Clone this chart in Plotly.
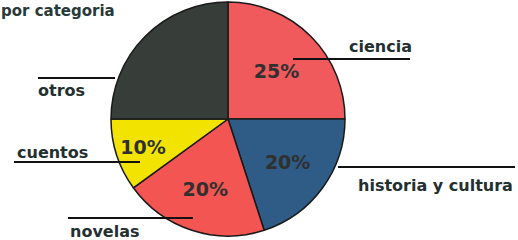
import plotly.graph_objects as go

categories = ["ciencia", "historia y cultura", "novelas", "cuentos", "otros"]
values = [25, 20, 20, 10, 25]
inside_labels = ["25%", "20%", "20%", "10%", ""]
colors = ["#F05A5C", "#2E5C86", "#F25552", "#F2E400", "#373D39"]

W, H = 518, 240
FONT = "DejaVu Sans, Liberation Sans, Arial"

def px(x):
    return x / W

def py(y):
    return 1 - y / H

fig = go.Figure(go.Pie(
    labels=categories,
    values=values,
    text=inside_labels,
    texttemplate="<b>%{text}</b>",
    textposition="inside",
    insidetextorientation="horizontal",
    textfont=dict(family=FONT, size=19, color="#303030"),
    marker=dict(colors=colors, line=dict(color="#1a1a1a", width=1.5)),
    sort=False,
    direction="clockwise",
    rotation=0,
    showlegend=False,
    hoverinfo="label+percent",
    domain=dict(x=[px(111), px(345)], y=[py(236), py(2)]),
))

# external labels with leader lines: (text, text_x, text_y, line_x0, line_x1, line_y)
ext = [
    ("ciencia", 380, 46, 293, 410, 59),
    ("historia y cultura", 435, 185, 338, 515, 167),
    ("otros", 61, 90, 38, 115, 78),
    ("cuentos", 52, 152, 14, 140, 162),
    ("novelas", 104, 231, 68, 193, 218),
]
shapes = []
annotations = []
for t, tx, ty, x0, x1, ly in ext:
    annotations.append(dict(text="<b>" + t + "</b>", x=px(tx), y=py(ty), xref="paper", yref="paper",
                            showarrow=False, xanchor="center", yanchor="middle",
                            font=dict(family=FONT, size=16, color="#243030")))
    shapes.append(dict(type="line", xref="paper", yref="paper",
                       x0=px(x0), x1=px(x1), y0=py(ly), y1=py(ly),
                       line=dict(color="#111", width=2)))

annotations.append(dict(text="<b>por categoria</b>", x=px(-1), y=py(11), xref="paper", yref="paper",
                        showarrow=False, xanchor="left", yanchor="middle",
                        font=dict(family=FONT, size=15, color="#2a3a3a")))

fig.update_layout(
    width=W, height=H,
    margin=dict(l=0, r=0, t=0, b=0),
    paper_bgcolor="white", plot_bgcolor="white",
    shapes=shapes, annotations=annotations,
)

fig.write_html("out.html", config={"displayModeBar": False},
               post_script="document.body.style.margin='0';document.body.style.padding='0';")
